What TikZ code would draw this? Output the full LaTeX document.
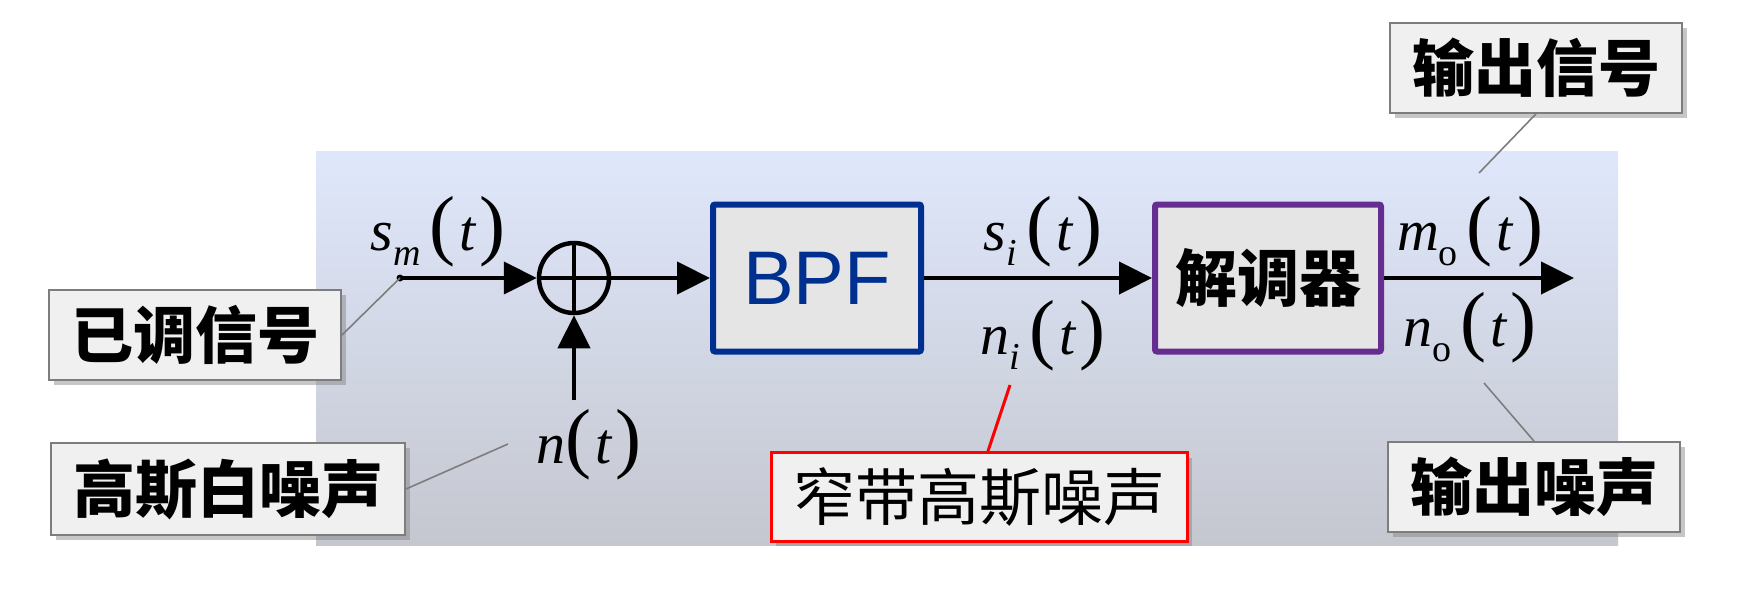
\documentclass[tikz,border=0pt]{standalone}
\usepackage{fontspec}
\usepackage{tikz}
\usetikzlibrary{arrows.meta}
\usetikzlibrary{shadows}
\usetikzlibrary{positioning}
\usetikzlibrary{calc}

\newfontfamily\cjk{Noto Sans CJK SC}
\newfontfamily\tms{Liberation Serif}
\newfontfamily\arialfont{Liberation Sans}

\definecolor{bgtop}{RGB}{223,231,251}
\definecolor{bgbot}{RGB}{197,199,207}
\definecolor{bpfblue}{RGB}{0,48,143}
\definecolor{dempurple}{RGB}{102,45,145}
\definecolor{boxfill}{RGB}{229,229,229}
\definecolor{notefill}{RGB}{240,240,240}
\definecolor{notegrey}{RGB}{125,125,125}

\newcommand{\parenbig}[1]{{\fontsize{78}{78}\selectfont #1}}
\newcommand{\argt}{\parenbig{(}\kern4pt{\itshape t}\kern4pt\parenbig{)}}
\newcommand{\sigfn}[2]{{\itshape #1}\raisebox{-15pt}{\fontsize{38}{38}\selectfont #2}\kern9pt\argt}

\tikzset{
  flow/.style={line width=4.5pt,-{Triangle[length=33pt,width=32pt]}},
  blockbox/.style={line width=6pt,fill=boxfill,minimum width=208pt,minimum height=147pt,rounded corners=2pt},
  sumnode/.style={circle,draw,line width=4.5pt,minimum size=70pt,inner sep=0pt},
  siglbl/.style={font=\tms\fontsize{58}{58}\selectfont,inner sep=2pt},
  notebox/.style={draw=notegrey,line width=2pt,fill=notefill,inner xsep=22pt,inner ysep=15pt,
    font=\cjk\bfseries\fontsize{62}{62}\selectfont,
    drop shadow={shadow xshift=5pt,shadow yshift=-5pt,opacity=0.45}},
  leader/.style={draw=notegrey,line width=1.6pt}
}

\begin{document}
\begin{tikzpicture}[x=1pt,y=-1pt]
  \useasboundingbox (0,0) rectangle (1750,610);
  % Hintergrund
  \shade[top color=bgtop,bottom color=bgbot] (316,151) rectangle (1618,545);

  % Bloecke
  \node[sumnode] (sum) at (574,278) {};
  \draw[line width=3.5pt] (sum.north) -- (sum.south) (sum.west) -- (sum.east);
  \node[blockbox,draw=bpfblue,text=bpfblue,font=\arialfont\fontsize{76}{76}\selectfont] (bpf) at (817,278) {BPF};
  \node[blockbox,draw=dempurple,minimum width=226pt,font=\cjk\bfseries\fontsize{62}{62}\selectfont] (demod) at (1268,278) {解调器};

  % Signalweg
  \coordinate (smin) at (400,278);
  \coordinate (nin) at (574,400);
  \coordinate (outend) at (1574,278);
  \fill (smin) circle[radius=3.5];
  \draw[flow] (smin) -- (sum.west);
  \draw[flow] (nin) -- (sum.south);
  \draw[flow] (sum) -- (bpf);
  \draw[flow] (bpf) -- (demod);
  \draw[flow] (demod) -- (outend);

  % Beschriftungen
  \node[siglbl] (smlbl) at (438,232) {\sigfn{s}{\itshape m}};
  \node[siglbl] (ntlbl) at (589,445) {{\itshape n}\argt};
  \node[siglbl] (silbl) at (1043,232) {\sigfn{s}{\itshape i}};
  \node[siglbl] (nilbl) at (1043,336) {\sigfn{n}{\itshape i}};
  \node[siglbl] (molbl) at (1470,232) {\sigfn{m}{o}};
  \node[siglbl] (nolbl) at (1470,328) {\sigfn{n}{o}};

  % Hinweise
  \coordinate (ntip) at (508,444);
  \coordinate (nitip) at (1010,385);
  \coordinate (motip) at (1479,173);
  \coordinate (notip) at (1484,383);
  \foreach \nm/\px/\py/\txt in {cmod/195/335/已调信号,cwgn/228/489/高斯白噪声,cout/1536/68/输出信号,cnoi/1534/487/输出噪声}
  {
    \node[notebox] (\nm) at (\px,\py) {\txt};
  }
  \node[notebox,draw=red,line width=3pt,font=\cjk\fontsize{62}{62}\selectfont] (cnbn) at (979,497) {窄带高斯噪声};
  \draw[leader] (cmod.east) -- (smin);
  \draw[leader] (cwgn.east) -- (ntip);
  \draw[leader] (cout.south) -- (motip);
  \draw[leader] (cnoi.north) -- (notip);
  \draw[red,line width=3pt] ($(cnbn.north)+(9,0)$) -- (nitip);
\end{tikzpicture}
\end{document}
